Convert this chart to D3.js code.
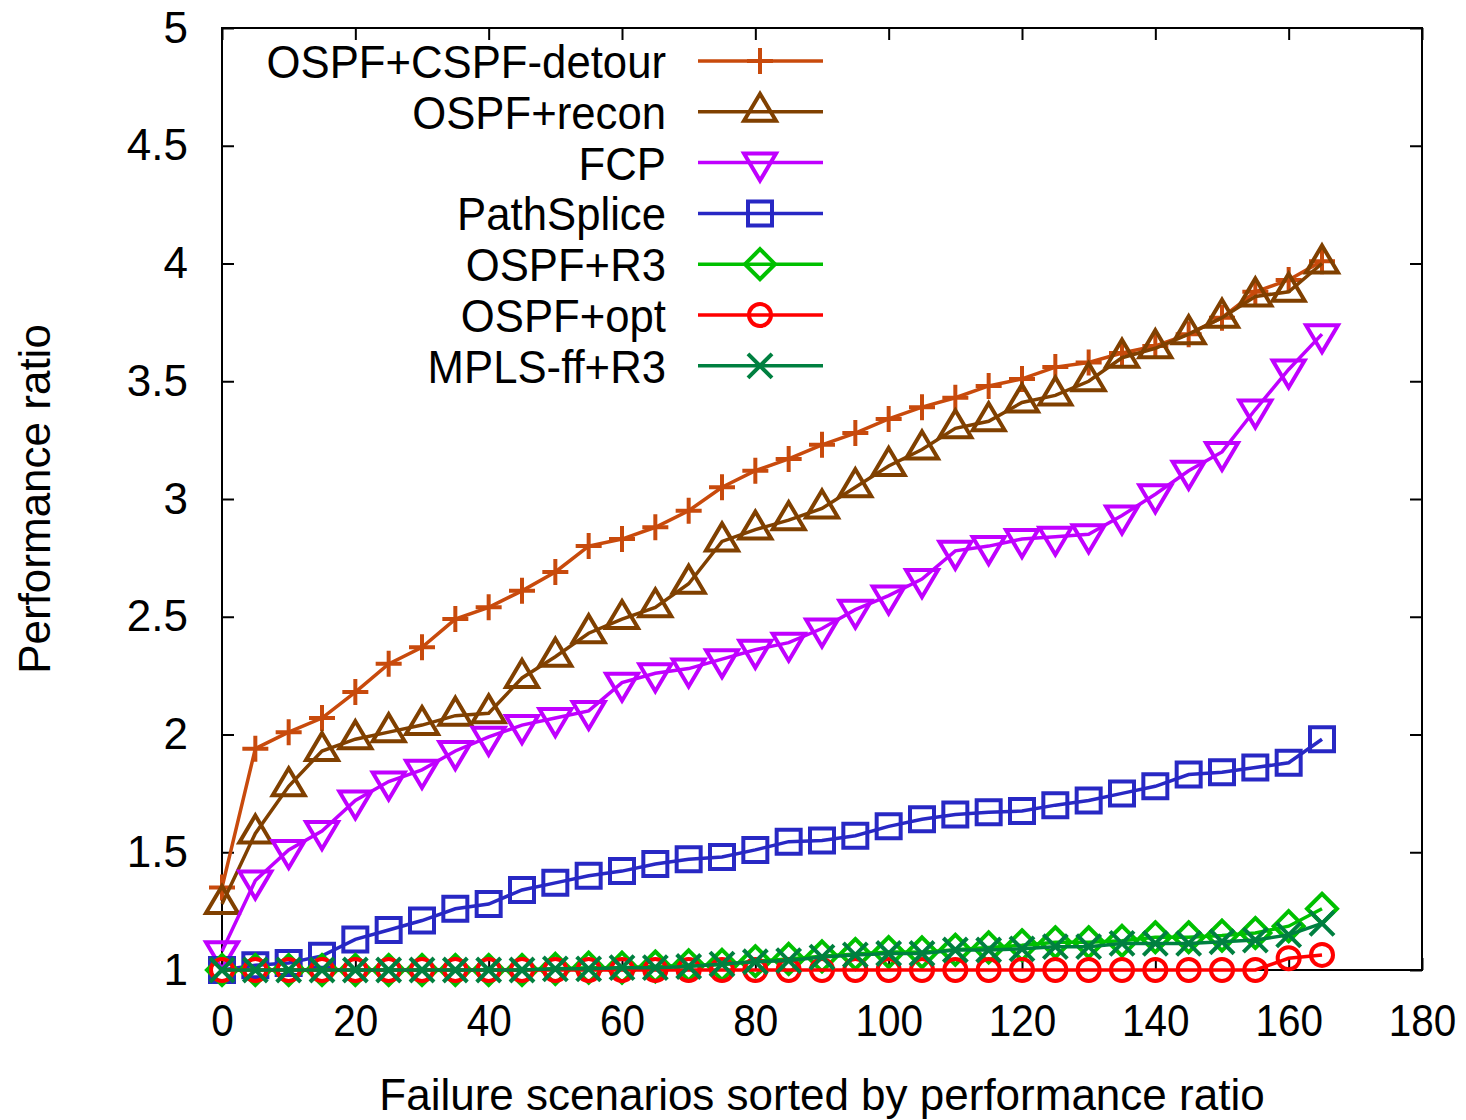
<!DOCTYPE html>
<html>
<head>
<meta charset="utf-8">
<script src="https://cdn.jsdelivr.net/npm/d3@7"></script>
<style>
  body { margin: 0; background: #fff; }
  svg { display: block; font-family: "Liberation Sans", Arial, sans-serif; }
</style>
</head>
<body>
<svg id="chart" width="1466" height="1120"></svg>
<script>
// data
const scenarios = [0, 5, 10, 15, 20, 25, 30, 35, 40, 45, 50, 55, 60, 65, 70, 75, 80,
    85, 90, 95, 100, 105, 110, 115, 120, 125, 130, 135, 140, 145, 150, 155, 160, 165];

const detour = [1.35, 1.94, 2.01, 2.07, 2.18, 2.30, 2.37, 2.49, 2.54, 2.61, 2.69, 2.80, 2.83, 2.88, 2.95,
    3.05, 3.12, 3.17, 3.23, 3.28, 3.34, 3.39, 3.43, 3.48, 3.51, 3.56, 3.58, 3.62, 3.65, 3.70, 3.77, 3.88, 3.93, 4.01];
const recon = [1.28, 1.58, 1.78, 1.93, 1.98, 2.01, 2.04, 2.08, 2.09, 2.24, 2.33, 2.43, 2.49, 2.54, 2.64,
    2.82, 2.87, 2.91, 2.96, 3.05, 3.14, 3.21, 3.30, 3.33, 3.41, 3.44, 3.50, 3.60, 3.64, 3.70, 3.77, 3.86, 3.88, 4.00];
const fcp = [1.08, 1.38, 1.51, 1.59, 1.72, 1.80, 1.85, 1.93, 1.99, 2.04, 2.07, 2.10, 2.22, 2.26, 2.28,
    2.32, 2.36, 2.39, 2.45, 2.53, 2.59, 2.66, 2.78, 2.80, 2.83, 2.84, 2.85, 2.93, 3.02, 3.12, 3.20, 3.38, 3.55, 3.70];
const pathSplice = [1.00, 1.02, 1.03, 1.06, 1.13, 1.17, 1.21, 1.26, 1.28, 1.34, 1.37, 1.40, 1.42, 1.45, 1.47,
    1.48, 1.51, 1.545, 1.55, 1.57, 1.61, 1.64, 1.66, 1.67, 1.675, 1.70, 1.72, 1.75, 1.78, 1.83, 1.84, 1.86, 1.88, 1.98];
const r3 = [1.00, 1.00, 1.00, 1.00, 1.00, 1.00, 1.00, 1.00, 1.00, 1.00, 1.005, 1.01, 1.01, 1.015, 1.02,
    1.022, 1.037, 1.047, 1.058, 1.068, 1.076, 1.075, 1.086, 1.096, 1.105, 1.118, 1.118, 1.124, 1.139, 1.139, 1.146, 1.157, 1.186, 1.26];
const opt = [1.00, 1.00, 1.00, 1.00, 1.00, 1.00, 1.00, 1.00, 1.00, 1.00, 1.00, 1.00, 1.00, 1.00, 1.00,
    1.00, 1.00, 1.00, 1.00, 1.00, 1.00, 1.00, 1.00, 1.00, 1.00, 1.00, 1.00, 1.00, 1.00, 1.00, 1.00, 1.00, 1.05, 1.064];
const mplsR3 = [1.00, 1.00, 1.00, 1.00, 1.00, 1.00, 1.00, 1.00, 1.00, 1.00, 1.005, 1.005, 1.01, 1.01, 1.015,
    1.025, 1.035, 1.04, 1.055, 1.064, 1.07, 1.07, 1.085, 1.085, 1.09, 1.099, 1.099, 1.113, 1.113, 1.113, 1.12, 1.127, 1.149, 1.198];

const seriesNames = ["OSPF+CSPF-detour", "OSPF+recon", "FCP", "PathSplice", "OSPF+R3", "OSPF+opt", "MPLS-ff+R3"];
const seriesValues = [detour, recon, fcp, pathSplice, r3, opt, mplsR3];
const seriesColors = ["#c84a0c", "#804000", "#c000ff", "#2828c4", "#00c000", "#ff0000", "#008040"];
const seriesMarks = ["plus", "triUp", "triDown", "square", "diamond", "circle", "cross"];

const xTicks = [0, 20, 40, 60, 80, 100, 120, 140, 160, 180];
const yTicks = [1, 1.5, 2, 2.5, 3, 3.5, 4, 4.5, 5];
const yTickLabels = ["1", "1.5", "2", "2.5", "3", "3.5", "4", "4.5", "5"];

// layout
const plotLeft = 222, plotRight = 1422, plotTop = 28, plotBottom = 970;

const svg = d3.select("#chart");

let x = d3.scaleLinear().domain([0, 180]).range([plotLeft, plotRight]);
let y = d3.scaleLinear().domain([1, 5]).range([plotBottom, plotTop]);

// marker outlines, centred on 0,0
let markPath = (kind) => {
    switch (kind) {
        case "plus": return "M-13,0H13M0,-13V13";
        case "cross": return "M-12,-12L12,12M-12,12L12,-12";
        case "triUp": return "M0,-18L16,9L-16,9Z";
        case "triDown": return "M0,18L16,-9L-16,-9Z";
        case "square": return "M-12,-12H12V12H-12Z";
        case "diamond": return "M0,-15L15,0L0,15L-15,0Z";
        case "circle": return "M-11,0A11,11 0 1,0 11,0A11,11 0 1,0 -11,0Z";
    }
}

// frame
svg.append("rect")
    .attr("x", plotLeft).attr("y", plotTop)
    .attr("width", plotRight - plotLeft).attr("height", plotBottom - plotTop)
    .attr("fill", "none").attr("stroke", "#000").attr("stroke-width", 2);

// axes, ticks pointing inward, mirrored on top and right
let styleAxis = (g) => {
    g.select(".domain").remove();
    g.selectAll(".tick line").attr("stroke", "#000").attr("stroke-width", 2);
    g.selectAll("text").attr("fill", "#000").style("font-size", "44px");
}

svg.append("g")
    .attr("transform", `translate(0,${plotBottom})`)
    .call(d3.axisBottom(x).tickValues(xTicks).tickSize(-12).tickPadding(35).tickFormat(d3.format("d")))
    .call(styleAxis)
    .selectAll("text").attr("transform", "scale(0.92,1)");

svg.append("g")
    .attr("transform", `translate(0,${plotTop})`)
    .call(d3.axisTop(x).tickValues(xTicks).tickSize(-12).tickFormat(""))
    .call(styleAxis);

svg.append("g")
    .attr("transform", `translate(${plotLeft},0)`)
    .call(d3.axisLeft(y).tickValues(yTicks).tickSize(-12).tickPadding(34)
        .tickFormat((d, i) => yTickLabels[i]))
    .call(styleAxis);

svg.append("g")
    .attr("transform", `translate(${plotRight},0)`)
    .call(d3.axisRight(y).tickValues(yTicks).tickSize(-12).tickFormat(""))
    .call(styleAxis);

// axis titles
svg.append("text")
    .attr("x", (plotLeft + plotRight) / 2).attr("y", 1110)
    .attr("text-anchor", "middle")
    .style("font-size", "44px")
    .text("Failure scenarios sorted by performance ratio");

svg.append("text")
    .attr("transform", `translate(50,${(plotTop + plotBottom) / 2}) rotate(-90)`)
    .attr("text-anchor", "middle")
    .style("font-size", "44px")
    .text("Performance ratio");

// series: line then points, in gnuplot order
let line = d3.line()
    .x((d, i) => x(scenarios[i]))
    .y(d => y(d));

seriesValues.forEach((vals, k) => {
    let g = svg.append("g");
    g.append("path")
        .attr("d", line(vals))
        .attr("fill", "none")
        .attr("stroke", seriesColors[k])
        .attr("stroke-width", 3.5);
    g.selectAll(".mark")
        .data(vals)
        .enter()
        .append("path")
        .attr("transform", (d, i) => `translate(${x(scenarios[i])},${y(d)})`)
        .attr("d", markPath(seriesMarks[k]))
        .attr("fill", "none")
        .attr("stroke", seriesColors[k])
        .attr("stroke-width", 4);
});

// legend
let legend = svg.append("g");
seriesNames.forEach((name, k) => {
    let ly = 61 + k * 50.8;
    legend.append("text")
        .attr("transform", `translate(666,${ly + 17}) scale(0.95,1)`)
        .attr("text-anchor", "end")
        .style("font-size", "46px")
        .text(name);
    legend.append("line")
        .attr("x1", 698).attr("x2", 823)
        .attr("y1", ly).attr("y2", ly)
        .attr("stroke", seriesColors[k])
        .attr("stroke-width", 3.5);
    legend.append("path")
        .attr("transform", `translate(760,${ly})`)
        .attr("d", markPath(seriesMarks[k]))
        .attr("fill", "none")
        .attr("stroke", seriesColors[k])
        .attr("stroke-width", 4);
});
</script>
</body>
</html>
